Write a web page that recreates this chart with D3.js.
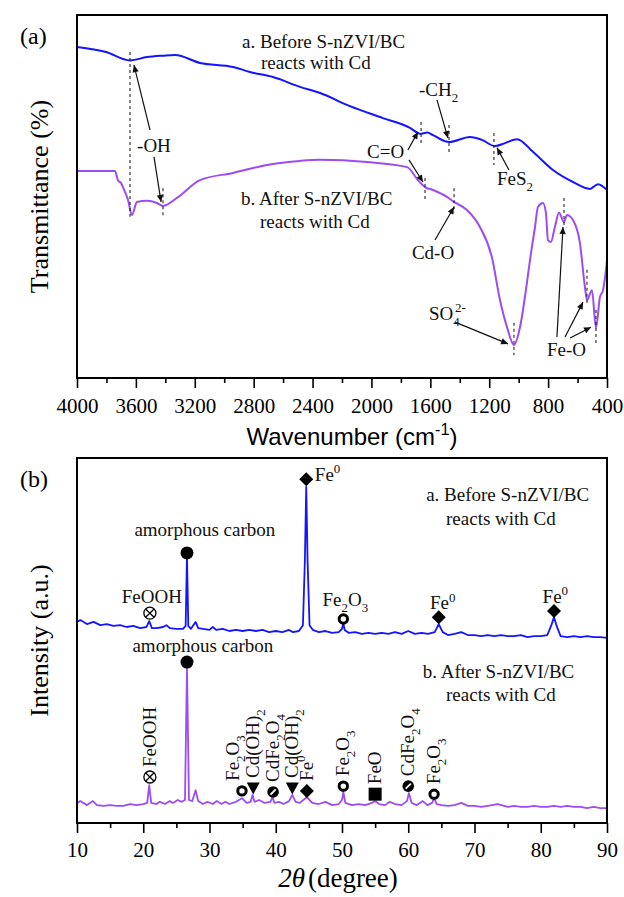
<!DOCTYPE html>
<html><head><meta charset="utf-8">
<script src="https://cdn.jsdelivr.net/npm/d3@7"></script>
<style>body{margin:0;background:#fff}</style>
</head><body>
<svg id="c" width="624" height="897"></svg>
<script>
// ---------- FTIR data (panel a) ----------
const ftirBeforeWn = [4000,3803,3640,3525,3416,3334,3165,2940,2825,2669,2485,2349,2146,1922,1738,1670,1620,1582,1473,1331,1249,1161,1093,1011,903,767,631,516,461,400];
const ftirBeforeT  = [91.2,89.8,87.5,88.4,88.8,89.0,86.8,85.7,84.3,82.9,80.2,78.5,74.9,71.6,68.9,67.3,67.6,66.9,65.0,66.4,65.6,63.9,64.7,65.8,62.3,57.3,54.0,52.1,53.4,51.8];
const ftirAfterWn  = [4000,3742,3722,3701,3688,3653,3627,3593,3525,3457,3416,3321,3165,2940,2709,2485,2349,2030,1758,1684,1636,1582,1487,1439,1351,1263,1181,1127,1079,1032,991,944,923,889,869,835,815,801,781,754,726,692,672,631,584,550,536,502,475,448,427,407,400];
const ftirAfterT   = [57.0,57.0,54.5,53.7,52.6,49.0,44.9,48.5,48.8,48.2,47.4,49.6,54.5,56.5,58.7,59.8,60.1,59.5,58.1,54.5,52.6,51.8,49.9,48.5,46.3,41.6,33.1,21.5,14.0,9.1,14.0,26.2,32.5,41.6,47.1,48.2,45.5,38.0,37.5,41.6,45.5,43.0,44.9,43.5,37.2,25.1,21.5,24.2,13.8,22.3,24.2,29.8,32.5];
const ftirMajorTicks = [4000,3600,3200,2800,2400,2000,1600,1200,800,400];
const ftirMinorTicks = [3800,3400,3000,2600,2200,1800,1400,1000,600];
const ftirDashWn  = [3640,3416,1663,1473,1168,1636,1439,1032,692,536,475];
const ftirDashTop = [89.8,52.3,70.5,69.7,67.5,55.1,52.3,15.2,49.6,29.8,18.7];
const ftirDashBot = [44.4,44.1,64.2,61.4,58.7,48.5,45.5,6.3,42.1,20.7,9.6];
const ftirArrowFromWn = [3504,3477,1555,1752,1745,1066,1568,1432,740,685,651];
const ftirArrowFromT  = [68.3,60.9,76.6,62.8,60.1,57.3,38.0,15.4,11.3,11.3,11.0];
const ftirArrowToWn   = [3613,3429,1480,1684,1650,1147,1439,1072,699,563,509];
const ftirArrowToT    = [86.2,48.5,66.1,67.8,54.0,63.4,47.1,9.4,41.6,20.9,14.0];
const ftirLabelText = ["-OH","-CH_{2}","C=O","FeS_{2}","Cd-O","SO_{4}^{2-}","Fe-O"];
const ftirLabelWn   = [3592,1677,2030,1147,1725,1609,808];
const ftirLabelT    = [62.3,77.7,60.6,53.2,32.8,16.0,6.1];
const ftirLegendText = ["a. Before S-nZVI/BC","reacts with Cd","b. After S-nZVI/BC","reacts with Cd"];
const ftirLegendWn   = [2879,2750,2886,2757];
const ftirLegendT    = [90.9,85.1,47.7,41.3];

// ---------- XRD data (panel b) ----------
const xrdBeforeTheta = [10,10.5,11.5,12.5,13.5,14.5,15.5,16.5,17.5,18.5,19.5,20.5,20.9,21.3,22,23,23.5,24,25,26,26.4,26.6,26.8,27.2,27.9,28.3,29,30,30.5,31,32,33,34,35,36,37,38,39,40,41,42,42.6,43.5,44.1,44.4,44.6,44.8,45.1,45.6,46.5,47.5,48.5,49.5,50,50.2,50.4,51,52,53,54,55,56,57,58,59,60,61,62,63,64,64.6,65.2,66,67,68,69,70,71,72,73,74,75,76,77,78,79,80,81,81.6,82,82.4,83,84,85,86,87,88,89,90];
const xrdBeforeI = [55.1,55.6,54.5,55.1,54.2,54.5,54.0,54.2,53.7,54.0,53.4,53.7,55.3,53.4,53.4,53.7,54.2,53.4,53.2,53.2,54.0,73.2,54.0,53.2,55.1,53.4,53.2,52.9,53.7,52.9,53.2,52.6,52.9,52.6,52.9,52.6,52.9,52.3,52.6,52.3,52.9,52.3,52.6,54.2,72.1,92.1,72.1,54.2,52.9,52.3,52.6,52.1,52.3,53.2,54.8,52.9,52.1,52.3,51.8,52.1,51.8,52.1,51.8,52.3,51.8,52.6,51.8,52.1,51.8,52.3,54.5,52.3,51.5,51.8,52.3,51.5,51.5,51.2,51.5,51.2,51.5,51.2,51.2,51.5,50.9,51.2,51.2,51.5,54.2,56.4,54.0,51.2,50.9,51.2,50.9,51.2,50.9,50.9,50.7];
const xrdAfterTheta = [10,10.5,11.5,12.4,13,14,15,16,17,18,19,20,20.6,20.9,21.2,22,22.5,23.3,24,24.5,25.2,25.8,26.3,26.6,26.9,27.4,27.9,28.3,29,29.7,30.5,31.1,31.8,32.4,33,34,34.9,35.6,36.2,36.5,36.8,37.5,38.3,39.2,39.5,39.8,40.5,41.2,42,42.5,43,43.6,44.7,45.5,46.5,47.5,48.5,49.5,50,50.2,50.5,51.5,52.5,53.5,54.5,55,55.6,56.5,57.2,58,59,59.8,60.1,60.5,61.3,62.2,62.9,63.6,63.9,64.3,65,66,67,68,69,70,71,72,73.5,75,76,77,78,79,80,81,82,83,84,85,86,87,88,89,90];
const xrdAfterI = [5.5,6.0,4.9,6.0,4.9,4.7,4.9,4.7,4.7,5.2,4.9,5.2,5.5,10.4,5.5,5.2,5.8,5.2,6.0,5.5,6.3,5.8,6.3,42.7,6.3,6.0,9.0,6.0,5.2,5.8,5.2,6.0,5.2,5.8,5.2,5.8,6.8,5.5,5.8,7.7,5.8,6.3,5.5,5.8,7.1,5.5,5.8,5.2,6.0,7.7,5.8,5.5,7.1,5.5,5.2,5.8,4.9,5.2,6.3,8.5,5.5,4.9,5.2,4.9,5.5,6.0,5.2,4.9,5.8,5.2,4.9,6.0,8.2,5.5,4.9,6.0,4.9,5.5,6.8,5.2,4.9,4.7,4.9,5.5,4.7,4.7,4.4,4.7,5.2,4.4,4.7,4.4,4.4,4.7,4.4,4.4,4.7,4.4,4.7,4.4,4.4,4.1,4.4,4.1,4.1];
const xrdMajorTicks = [10,20,30,40,50,60,70,80,90];
const xrdMinorTicks = [15,25,35,45,55,65,75,85];
const xrdBeforeMarkTheta = [21.0,26.6,44.6,50.2,64.6,82.0];
const xrdBeforeMarkI     = [57.5,74.0,94.2,55.9,56.4,58.1];
const xrdBeforeMarkType  = ["cross","ball","diamond","ring","diamond","diamond"];
const xrdBeforeLabelText = ["FeOOH","amorphous carbon","Fe^{0}","Fe_{2}O_{3}","Fe^{0}","Fe^{0}"];
const xrdBeforeLabelTheta= [21.3,29.3,45.9,50.5,65.2,82.2];
const xrdBeforeLabelI    = [60.3,78.6,93.7,59.5,58.6,60.3];
const xrdAfterMarkTheta = [21.0,26.6,34.9,36.6,39.6,42.5,44.7,50.2,55.0,60.0,63.9];
const xrdAfterMarkI     = [12.6,44.1,8.8,9.6,8.5,9.6,8.8,10.1,7.9,10.1,7.9];
const xrdAfterMarkType  = ["cross","ball","ring","tri","slash","tri","diamond","ring","square","slash","ring"];
const xrdAfterLabelText = ["FeOOH","","Fe_{2}O_{3}","Cd(OH)_{2}","CdFe_{2}O_{4}","Cd(OH)_{2}","Fe^{0}","Fe_{2}O_{3}","FeO","CdFe_{2}O_{4}","Fe_{2}O_{3}"];
const xrdLegendText  = ["a. Before S-nZVI/BC","reacts with Cd","amorphous carbon","b. After S-nZVI/BC","reacts with Cd"];
const xrdLegendTheta = [62.7,65.7,29.0,62.2,65.7];
const xrdLegendI     = [88.2,81.6,46.8,39.7,33.4];

// ---------- drawing ----------
const svg = d3.select('#c');
const serif = "'Liberation Serif','Times New Roman',serif";
const sans = "'Liberation Sans',Arial,sans-serif";
const BLUE = "#1414ff", PURPLE = "#9c4cf2";
const PA = {l:77, r:607, t:15, b:378};
const PB = {l:77, r:607, t:458, b:823};

const xA = d3.scaleLinear().domain([4000,400]).range([PA.l, PA.r]);
const yA = d3.scaleLinear().domain([0,100]).range([PA.b, PA.t]);
const xB = d3.scaleLinear().domain([10,90]).range([PB.l, PB.r]);
const yB = d3.scaleLinear().domain([0,100]).range([PB.b, PB.t]);

const defs = svg.append('defs');
defs.append('marker').attr('id','ah').attr('viewBox','0 0 10 10').attr('refX',10).attr('refY',5)
  .attr('markerWidth',8).attr('markerHeight',7).attr('markerUnits','userSpaceOnUse').attr('orient','auto')
  .append('path').attr('d','M0,0.5 L10,5 L0,9.5 Z').attr('fill','#111');

function rich(t, str, fs){
  const re = /(_\{[^}]*\}|\^\{[^}]*\}|[^_^]+)/g; let m, shift = 0, prevSub = false;
  while ((m = re.exec(str))) {
    const s = m[0];
    if (s[0] === '_') { t.append('tspan').attr('dy', fs*0.3 - shift).attr('font-size', fs*0.68).text(s.slice(2,-1)); shift = fs*0.3; prevSub = true; }
    else if (s[0] === '^') { const sp = t.append('tspan').attr('dy', -fs*0.4 - shift).attr('font-size', fs*0.68).text(s.slice(2,-1)); if (prevSub) sp.attr('dx', -fs*0.25); shift = -fs*0.4; prevSub = false; }
    else { t.append('tspan').attr('dy', -shift).text(s); shift = 0; prevSub = false; }
  }
  return t;
}

function axis(scale, majors, minors, y, pad){
  const g = svg.append('g').attr('transform', `translate(0,${y})`);
  g.append('g').call(d3.axisBottom(scale).tickValues(minors).tickSize(5).tickFormat(''));
  g.append('g').call(d3.axisBottom(scale).tickValues(majors).tickSize(10).tickPadding(pad).tickFormat(d3.format('d')));
  g.selectAll('g').attr('font-family', serif).attr('font-size', 21);
  g.selectAll('.domain').remove();
  g.selectAll('line').attr('stroke','#000').attr('stroke-width',1.6);
  g.selectAll('text').attr('font-family', serif).attr('font-size', 21).attr('fill','#000');
}

// ===== Panel (a) =====
const lineA = d3.line().x(d => xA(d[0])).y(d => yA(d[1])).curve(d3.curveMonotoneX);
svg.append('path').datum(d3.zip(ftirBeforeWn, ftirBeforeT)).attr('d', lineA)
  .attr('fill','none').attr('stroke', BLUE).attr('stroke-width', 2);
svg.append('path').datum(d3.zip(ftirAfterWn, ftirAfterT)).attr('d', lineA)
  .attr('fill','none').attr('stroke', PURPLE).attr('stroke-width', 2);

ftirDashWn.forEach((w,i) => {
  svg.append('line').attr('x1', xA(w)).attr('x2', xA(w)).attr('y1', yA(ftirDashTop[i])).attr('y2', yA(ftirDashBot[i]))
    .attr('stroke','#222').attr('stroke-width',1.1).attr('stroke-dasharray','3,3');
});
ftirArrowFromWn.forEach((w,i) => {
  svg.append('line').attr('x1', xA(w)).attr('y1', yA(ftirArrowFromT[i]))
    .attr('x2', xA(ftirArrowToWn[i])).attr('y2', yA(ftirArrowToT[i]))
    .attr('stroke','#111').attr('stroke-width',1.2).attr('marker-end','url(#ah)');
});
ftirLabelText.forEach((s,i) => {
  rich(svg.append('text').attr('x', xA(ftirLabelWn[i])).attr('y', yA(ftirLabelT[i]))
    .attr('font-family', serif).attr('font-size', 19).attr('fill','#111'), s, 19);
});
ftirLegendText.forEach((s,i) => {
  svg.append('text').attr('x', xA(ftirLegendWn[i])).attr('y', yA(ftirLegendT[i]))
    .attr('font-family', serif).attr('font-size', 19).attr('fill','#111').text(s);
});

svg.append('rect').attr('x', PA.l).attr('y', PA.t).attr('width', PA.r-PA.l).attr('height', PA.b-PA.t)
  .attr('fill','none').attr('stroke','#000').attr('stroke-width',2);
axis(xA, ftirMajorTicks, ftirMinorTicks, PA.b, 10);

rich(svg.append('text').attr('x', (PA.l+PA.r)/2 + 10).attr('y', 445).attr('text-anchor','middle')
  .attr('font-family', sans).attr('font-size', 24).attr('fill','#000'), "Wavenumber (cm^{-1})", 24);
svg.append('text').attr('transform', `translate(48,${(PA.t+PA.b)/2}) rotate(-90)`).attr('text-anchor','middle')
  .attr('font-family', serif).attr('font-size', 26).attr('fill','#000').text('Transmittance (%)');
svg.append('text').attr('x', 20).attr('y', 44).attr('font-family', serif).attr('font-size', 24).text('(a)');

// ===== Panel (b) =====
const lineB = d3.line().x(d => xB(d[0])).y(d => yB(d[1]));
svg.append('path').datum(d3.zip(xrdBeforeTheta, xrdBeforeI)).attr('d', lineB)
  .attr('fill','none').attr('stroke', BLUE).attr('stroke-width', 1.8).attr('stroke-linejoin','round');
svg.append('path').datum(d3.zip(xrdAfterTheta, xrdAfterI)).attr('d', lineB)
  .attr('fill','none').attr('stroke', PURPLE).attr('stroke-width', 1.8).attr('stroke-linejoin','round');

function symbol(type, x, y){
  const g = svg.append('g').attr('transform', `translate(${x},${y})`);
  if (type === 'ball') g.append('circle').attr('r', 6.5).attr('fill','#000');
  else if (type === 'diamond') g.append('path').attr('d','M0,-7 L7,0 L0,7 L-7,0 Z').attr('fill','#000');
  else if (type === 'ring') g.append('circle').attr('r', 4.2).attr('fill','#fff').attr('stroke','#000').attr('stroke-width',3);
  else if (type === 'cross') {
    g.append('circle').attr('r', 6).attr('fill','#fff').attr('stroke','#000').attr('stroke-width',1.3);
    g.append('path').attr('d','M-4.2,-4.2 L4.2,4.2 M-4.2,4.2 L4.2,-4.2').attr('stroke','#000').attr('stroke-width',1.3);
  }
  else if (type === 'tri') g.append('path').attr('d','M-6.5,-5.5 L6.5,-5.5 L0,6.5 Z').attr('fill','#000');
  else if (type === 'square') g.append('rect').attr('x',-6.5).attr('y',-6.5).attr('width',13).attr('height',13).attr('fill','#000');
  else if (type === 'slash') {
    g.append('circle').attr('r', 5.8).attr('fill','#000');
    g.append('path').attr('d','M-2.6,2.6 L2.6,-2.6').attr('stroke','#fff').attr('stroke-width',1.8);
  }
}

xrdBeforeMarkTheta.forEach((t,i) => symbol(xrdBeforeMarkType[i], xB(t), yB(xrdBeforeMarkI[i])));
xrdBeforeLabelText.forEach((s,i) => {
  rich(svg.append('text').attr('x', xB(xrdBeforeLabelTheta[i])).attr('y', yB(xrdBeforeLabelI[i]))
    .attr('text-anchor', i === 2 ? 'start' : 'middle')
    .attr('font-family', serif).attr('font-size', 19).attr('fill','#111'), s, 19);
});
const rotNudge = {2: -9};
xrdAfterMarkTheta.forEach((t,i) => {
  const x = xB(t), y = yB(xrdAfterMarkI[i]);
  symbol(xrdAfterMarkType[i], x, y);
  if (xrdAfterLabelText[i]) {
    const dx = rotNudge[i] || 0;
    rich(svg.append('text').attr('transform', `translate(${x + 6 + dx},${y - 10}) rotate(-90)`)
      .attr('font-family', serif).attr('font-size', 19).attr('fill','#111'), xrdAfterLabelText[i], 19);
  }
});
xrdLegendText.forEach((s,i) => {
  svg.append('text').attr('x', xB(xrdLegendTheta[i])).attr('y', yB(xrdLegendI[i]))
    .attr('text-anchor', i === 2 ? 'middle' : 'start')
    .attr('font-family', serif).attr('font-size', 19).attr('fill','#111').text(s);
});

svg.append('rect').attr('x', PB.l).attr('y', PB.t).attr('width', PB.r-PB.l).attr('height', PB.b-PB.t)
  .attr('fill','none').attr('stroke','#000').attr('stroke-width',2);
axis(xB, xrdMajorTicks, xrdMinorTicks, PB.b, 9);

const tt = svg.append('text').attr('x', 338).attr('y', 887).attr('text-anchor','middle')
  .attr('font-family', serif).attr('font-size', 27).attr('fill','#000');
tt.append('tspan').attr('font-style','italic').text('2θ');
tt.append('tspan').attr('dx', 3).text('(degree)');
svg.append('text').attr('transform', `translate(48,${(PB.t+PB.b)/2}) rotate(-90)`).attr('text-anchor','middle')
  .attr('font-family', serif).attr('font-size', 26).attr('fill','#000').text('Intensity (a.u.)');
svg.append('text').attr('x', 20).attr('y', 487).attr('font-family', serif).attr('font-size', 24).text('(b)');
</script>
</body></html>
